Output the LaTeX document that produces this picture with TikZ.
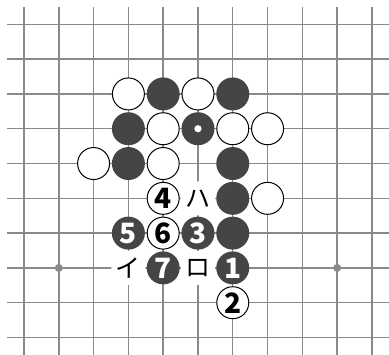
\documentclass[tikz,border=0pt]{standalone}
\usepackage{fontspec}
\newfontfamily\jpfont{Noto Sans CJK JP}
\usetikzlibrary{positioning}
\definecolor{gridgray}{HTML}{8A8A8A}
\definecolor{stonedark}{HTML}{454545}

\begin{document}
\begin{tikzpicture}[x=34.8pt,y=-34.8pt,
  gridline/.style={gridgray,line width=1.4pt},
  bstone/.style={circle,fill=stonedark,minimum size=33pt,inner sep=0pt,
    text=white,font=\jpfont\bfseries\fontsize{28}{28}\selectfont},
  wstone/.style={circle,draw=black,line width=1pt,fill=white,minimum size=32pt,
    inner sep=0pt,font=\jpfont\bfseries\fontsize{28}{28}\selectfont},
  pointlabel/.style={circle,fill=white,minimum size=34pt,inner sep=0pt,
    font=\jpfont\fontsize{25}{25}\selectfont}]
  \useasboundingbox (-0.69,-0.70) rectangle (10.49,9.50);
  % board
  \foreach \i in {0,...,10}
    \draw[gridline] (\i,-0.49) -- (\i,9.5);
  \foreach \j in {0,...,9}
    \draw[gridline] (-0.49,\j) -- (10.49,\j);
  \fill[gridgray] (1,7) circle (4pt);
  \fill[gridgray] (9,7) circle (4pt);
  % stones already on the board
  \foreach \c/\r in {4/2,6/2,3/3,5/3,3/4,6/4,6/5,6/6}
    \node[bstone] (b\c\r) at (\c,\r) {};
  \foreach \c/\r in {3/2,5/2,4/3,6/3,7/3,2/4,4/4,7/5}
    \node[wstone] (w\c\r) at (\c,\r) {};
  \fill[white] (b53.center) circle (3.6pt);
  % the sequence
  \foreach \c/\r/\n in {6/7/1,5/6/3,3/6/5,4/7/7}
    \node[bstone] (m\n) at (\c,\r) {\n};
  \foreach \c/\r/\n in {6/8/2,4/5/4,4/6/6}
    \node[wstone] (m\n) at (\c,\r) {\n};
  % points
  \node[pointlabel] (pi) at (3,7) {イ};
  \node[pointlabel] (pro) at (5,7) {ロ};
  \node[pointlabel] (pha) at (5,5) {ハ};
\end{tikzpicture}
\end{document}
